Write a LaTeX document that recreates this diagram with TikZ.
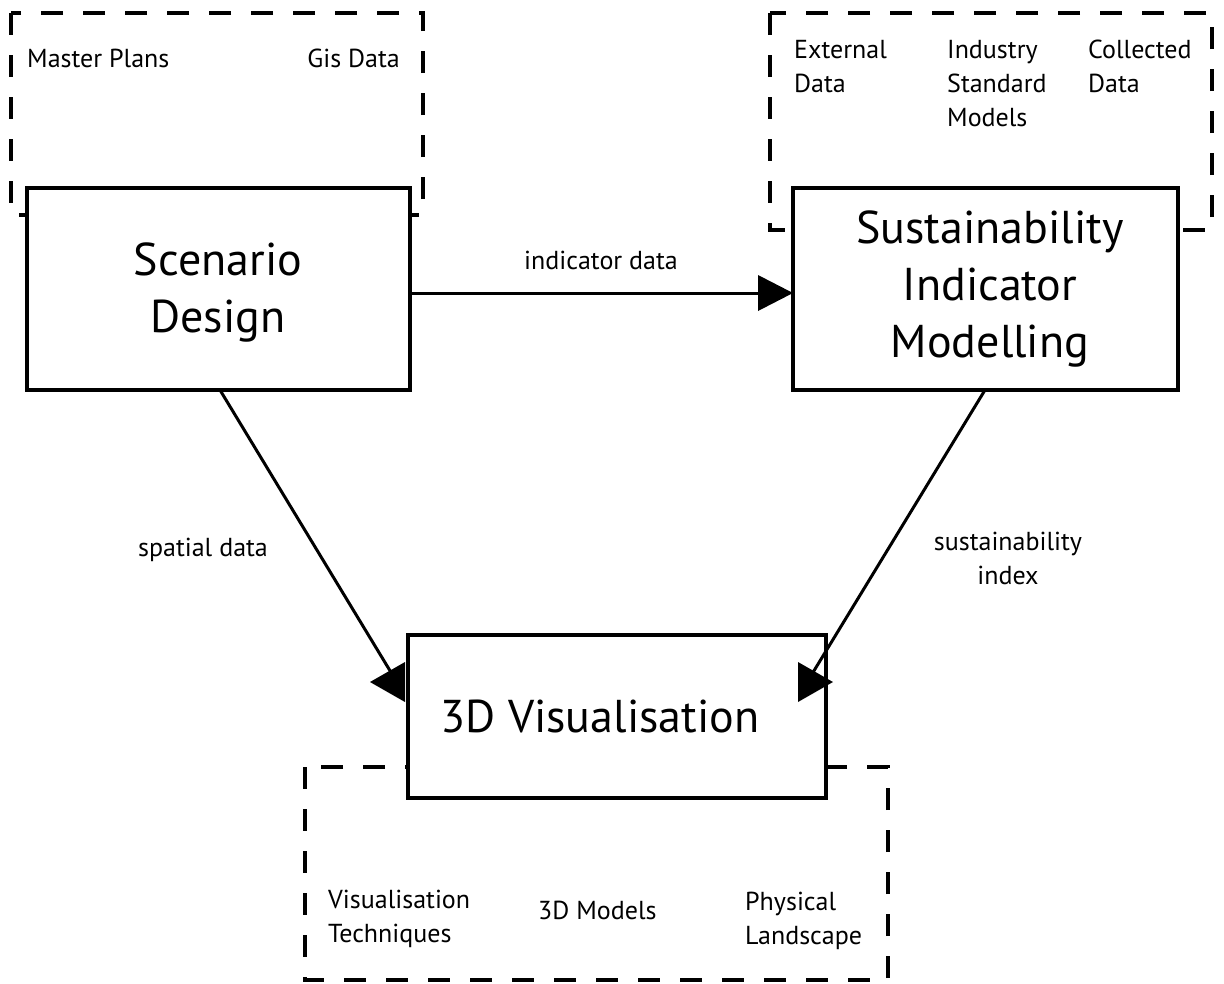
\documentclass[tikz,border=0pt]{standalone}
\usepackage{fontspec}
\setmainfont{PT Sans}
\begin{document}
\begin{tikzpicture}[x=1pt,y=-1pt,
  block/.style={draw,line width=4pt,fill=white,inner sep=0pt},
  frame/.style={draw,line width=4pt,dash pattern=on 22pt off 20pt},
  big/.style={font=\fontsize{46}{57}\selectfont,align=center},
  small/.style={font=\fontsize{26}{34}\selectfont,align=left,inner sep=0pt},
  link/.style={line width=3pt},
  head/.style={fill=black}]
\useasboundingbox (0,0) rectangle (1224,983);

% dashed groups of inputs
\draw[frame] (11,13) rectangle (423,215);
\draw[frame] (770,13) rectangle (1212,230);
\draw[frame] (305,767) rectangle (888,980);

% main blocks
\node[block,minimum width=383pt,minimum height=202pt] (sd) at (218.5,289) {};
\node[big] (sdt) at (218,292) {Scenario\\Design};
\node[block,minimum width=385pt,minimum height=202pt] (sim) at (985.5,289) {};
\node[big] (simt) at (990,289) {Sustainability\\Indicator\\Modelling};
\node[block,minimum width=418pt,minimum height=163pt] (vis) at (617,716.5) {};
\node[big] (vist) at (600,716) {3D Visualisation};

% inputs
\node[small,anchor=west] (mp) at (27,58) {Master Plans};
\node[small,anchor=east] (gis) at (400,58) {Gis Data};
\node[small,anchor=north west] (ext) at (794,40) {External\\Data};
\node[small,anchor=north west] (ind) at (947,40) {Industry\\Standard\\Models};
\node[small,anchor=north west] (col) at (1088,40) {Collected\\Data};
\node[small,anchor=north west] (vt) at (328,890) {Visualisation\\Techniques};
\node[small,anchor=west] (m3d) at (538,910) {3D Models};
\node[small,anchor=north west] (pl) at (745,892) {Physical\\Landscape};

% connectors
\coordinate (a1) at (sd.east |- 0,293);
\coordinate (a1e) at (760,293);
\draw[link] (a1) -- (a1e);
\fill[head] (793,293) -- (758,275) -- (758,311) -- cycle;
\node[small,align=center] (l1) at (601,260) {indicator data};

\coordinate (a2s) at (220,390);
\coordinate (a2e) at (392,674);
\draw[link] (a2s) -- (a2e);
\fill[head] (370,682) -- (405,662) -- (405,702) -- cycle;
\node[small,align=center] (l2) at (203,550) {spatial data};

\coordinate (a3s) at (985,390);
\coordinate (a3e) at (812,674);
\draw[link] (a3s) -- (a3e);
\fill[head] (833,682) -- (798,662) -- (798,702) -- cycle;
\node[small,align=center] (l3) at (1008,558) {sustainability\\index};
\end{tikzpicture}
\end{document}
